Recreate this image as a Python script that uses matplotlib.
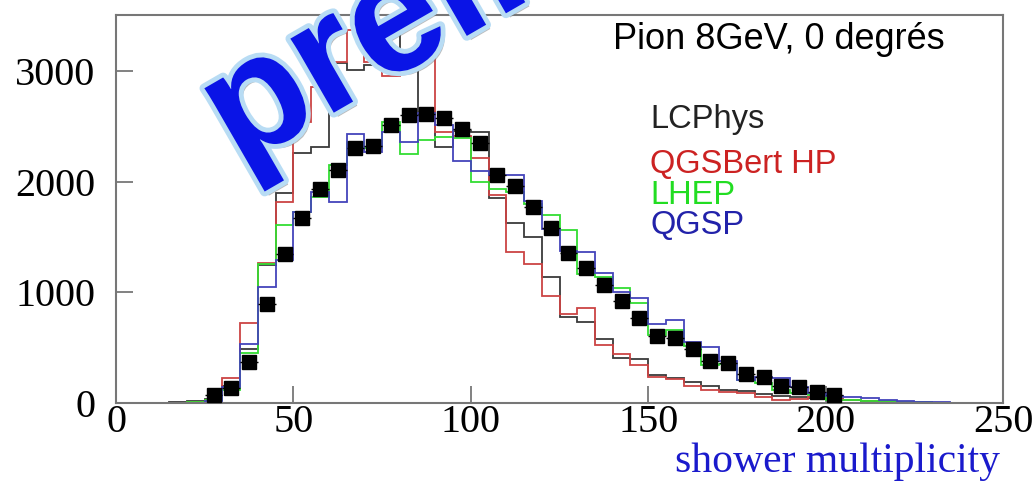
import numpy as np
import matplotlib
matplotlib.use("Agg")
import matplotlib.pyplot as plt
import matplotlib.patheffects as pe

# ---- data (bin width 5, 0..250) ----
bin_edges = np.arange(0, 255, 5)

lcphys = [0, 0, 0, 8, 15, 36, 150, 485, 1250, 1900, 2255, 2316, 3068, 3010, 3050, 3410,
          3144, 2630, 2316, 2457, 2450, 1850, 1629, 1497, 1135, 780, 735, 580, 410, 400,
          255, 225, 190, 150, 117, 105, 81, 60, 50, 42, 35, 25, 18, 12, 8, 5, 3, 2, 0, 0]
qgsbert = [0, 0, 0, 3, 10, 25, 223, 720, 1265, 1818, 2535, 2855, 3083, 3370, 3083, 2954,
           3129, 3150, 2450, 2410, 2210, 1879, 1360, 1253, 970, 804, 855, 520, 440, 340,
           232, 215, 150, 120, 100, 88, 57, 30, 38, 52, 36, 25, 15, 10, 6, 4, 2, 1, 0, 0]
lhep = [0, 0, 0, 0, 5, 30, 117, 455, 1256, 1608, 1728, 1864, 2150, 2361, 2300, 2541,
        2246, 2376, 2406, 2397, 1995, 1930, 1910, 1800, 1695, 1560, 1165, 1135, 1036, 900,
        614, 659, 515, 343, 353, 208, 184, 117, 93, 72, 30, 30, 20, 15, 10, 6, 4, 2, 1, 0]
qgsp = [0, 0, 0, 0, 3, 20, 147, 535, 1045, 1292, 1728, 1909, 1813, 2427, 2270, 2451,
        2361, 2617, 2511, 2186, 2099, 2060, 2060, 1828, 1569, 1376, 1367, 1170, 1000, 950,
        714, 750, 548, 503, 382, 208, 238, 229, 141, 87, 63, 51, 41, 30, 20, 12, 8, 4, 2, 0]

data_first_bin = 5
data_values = [72, 133, 373, 891, 1346, 1668, 1933, 2105, 2300, 2325, 2511, 2602, 2611,
               2572, 2472, 2349, 2064, 1960, 1768, 1583, 1352, 1220, 1066, 920, 768, 602,
               584, 490, 378, 365, 260, 235, 154, 141, 95, 76]

x_ticks = [0, 50, 100, 150, 200, 250]
y_ticks = [0, 1000, 2000, 3000]

series = [
    ("LCPhys", lcphys, "#3a3a3a", "#222222"),
    ("QGSBert HP", qgsbert, "#cc4444", "#cc2222"),
    ("LHEP", lhep, "#33dd33", "#22dd22"),
    ("QGSP", qgsp, "#4444bb", "#2222aa"),
]

W, H = 1035, 484
fig = plt.figure(figsize=(W / 100, H / 100), dpi=100)
ax = fig.add_axes([116 / W, 1 - 403 / H, 887 / W, 388 / H])

for name, vals, lc, tc in series:
    ax.stairs(vals, bin_edges, color=lc, linewidth=1.3, baseline=0, zorder=2)

centers = (bin_edges[:-1] + bin_edges[1:]) / 2
dx = centers[data_first_bin:data_first_bin + len(data_values)]
ax.errorbar(dx, data_values, xerr=2.5, fmt="s", color="black", ms=10,
            elinewidth=1.0, capsize=0, zorder=4)

ax.set_xlim(0, 250)
ax.set_ylim(0, 3505)
ax.set_xticks(x_ticks)
ax.set_yticks(y_ticks)
ax.set_xticklabels([str(t) for t in x_ticks], family="Liberation Serif", fontsize=29)
ax.set_yticklabels([str(t) for t in y_ticks], family="Liberation Serif", fontsize=29)
ax.tick_params(axis="both", direction="in", length=12, width=1.3, color="#777777")
ax.tick_params(axis="x", pad=1)
ax.tick_params(axis="y", pad=15)
for sp in ax.spines.values():
    sp.set_color("#777777")
    sp.set_linewidth(1.5)

fig.text(1000 / W, 1 - 472 / H, "shower multiplicity", ha="right", va="baseline",
         family="Liberation Serif", fontsize=30, color="#1a1acc")

fig.text(779 / W, 1 - 49 / H, "Pion 8GeV, 0 degrés", ha="center", va="baseline",
         family="Liberation Sans", fontsize=26, color="black")

legend_y = [128, 173, 204, 234]
for (name, vals, lc, tc), yb in zip(series, legend_y):
    fig.text(650 / W, 1 - yb / H, name, ha="left", va="baseline",
             family="Liberation Sans", fontsize=23.5, color=tc)

wm = fig.text(238 / W, 1 - 168 / H, "preliminary", rotation=30, rotation_mode="anchor",
              ha="left", va="baseline", family="Liberation Sans", weight="bold",
              fontsize=117, color="#0a14e6", zorder=10)
wm.set_path_effects([
    pe.SimplePatchShadow(offset=(3, -3), shadow_rgbFace="#777777", alpha=0.5),
    pe.Stroke(linewidth=7, foreground="#b8dcf4"),
    pe.Normal(),
])

fig.savefig("out.png", dpi=100)
